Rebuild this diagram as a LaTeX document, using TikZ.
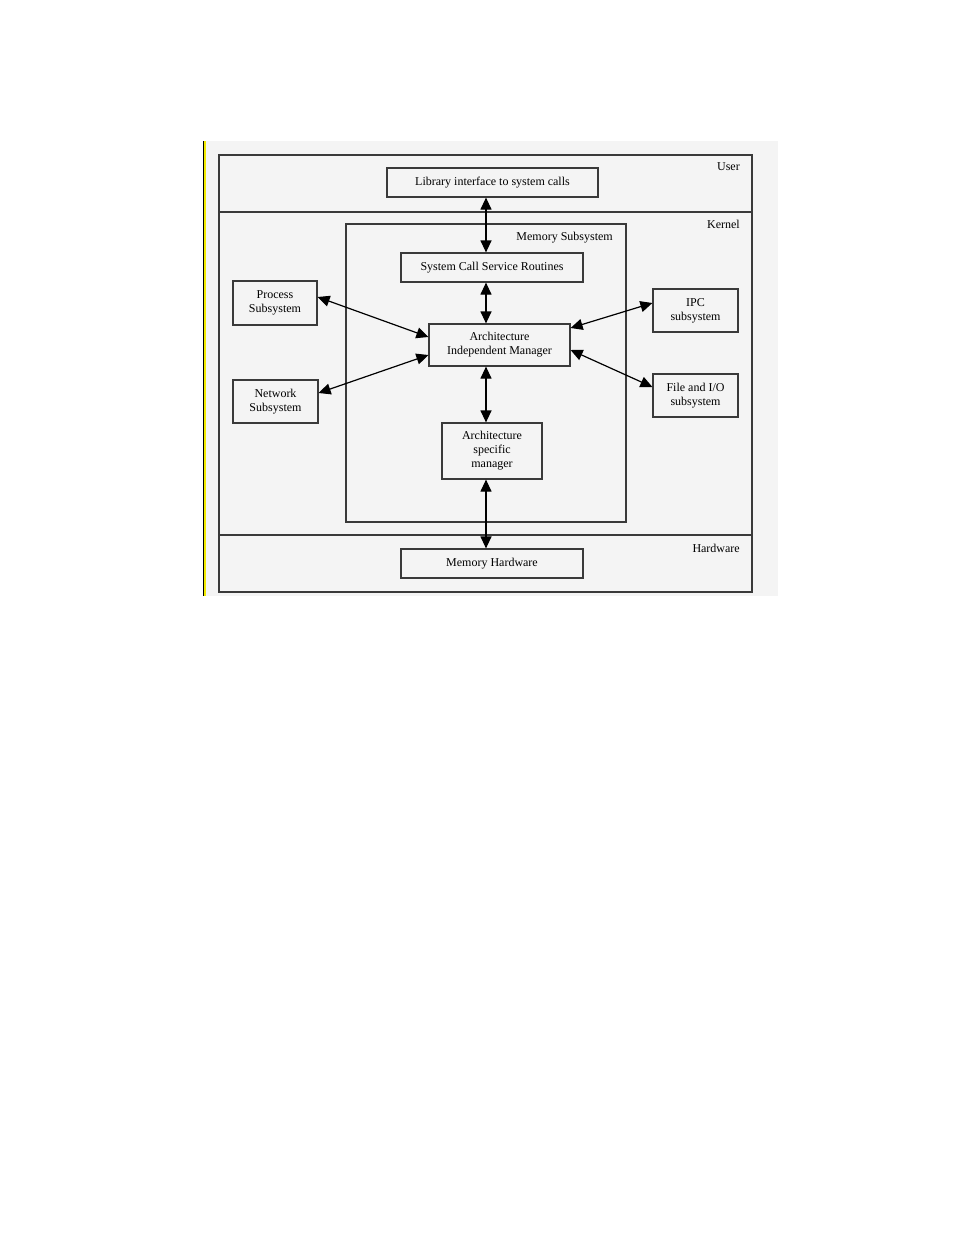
\documentclass[tikz,border=0pt]{standalone}
\usepackage{fontspec}
\setmainfont{Liberation Serif}
\usetikzlibrary{arrows.meta,calc}
\definecolor{bggray}{HTML}{F4F4F4}
\definecolor{linegray}{HTML}{3A3A3A}
\definecolor{sideyellow}{HTML}{F2EA00}
\begin{document}
\begin{tikzpicture}[x=1pt,y=-1pt,
  box/.style={draw=linegray,line width=1.2pt,rectangle,inner sep=0pt,align=center,
    font=\fontsize{12}{14}\selectfont},
  frame/.style={draw=linegray,line width=1.2pt},
  lbl/.style={inner sep=0pt,anchor=east,font=\fontsize{12}{14}\selectfont},
  link/.style={draw=black,line width=1.2pt,{Triangle[length=12pt,width=11pt]}-{Triangle[length=12pt,width=11pt]}}]
\useasboundingbox (0,0) rectangle (954,1235);
% page background
\fill[white] (0,0) rectangle (954,1235);
\fill[bggray] (204,141) rectangle (778,596);
\draw[black,line width=1pt] (203.5,141) -- (203.5,596);
\draw[sideyellow,line width=2pt] (205,141) -- (205,596);
% layers
\draw[frame] (219,155) rectangle (752,592);
\draw[frame] (219,212) -- (752,212);
\draw[frame] (219,535) -- (752,535);
\draw[frame] (346,224) rectangle (626,522);
% labels
\node[lbl] (user) at (740,167) {User};
\node[lbl] (kernel) at (740,224) {Kernel};
\node[lbl] (memsub) at (613,238) {Memory Subsystem};
\node[lbl] (hw) at (740,548) {Hardware};
% boxes
\node[box,minimum width=211pt,minimum height=29pt] (lib) at (492.5,182.5) {Library interface to system calls};
\node[box,minimum width=182pt,minimum height=29pt] (scsr) at (492,267.5) {System Call Service Routines};
\node[box,minimum width=141pt,minimum height=42pt] (aim) at (499.5,345) {Architecture\\Independent Manager};
\node[box,minimum width=100pt,minimum height=56pt] (asm) at (492,451) {Architecture\\specific\\manager};
\node[box,minimum width=182pt,minimum height=29pt] (mh) at (492,563.5) {Memory Hardware};
\node[box,minimum width=84pt,minimum height=44pt] (proc) at (275,303) {Process\\Subsystem};
\node[box,minimum width=85pt,minimum height=43pt] (net) at (275.5,401.5) {Network\\Subsystem};
\node[box,minimum width=85pt,minimum height=43pt] (ipc) at (695.5,310.5) {IPC\\subsystem};
\node[box,minimum width=85pt,minimum height=43pt] (fio) at (695.5,395.5) {File and I/O\\subsystem};
% connectors
\coordinate (ax) at (486,0);
\draw[link] (lib.south -| ax) -- (scsr.north -| ax);
\draw[link] (scsr.south -| ax) -- (aim.north -| ax);
\draw[link] (aim.south -| ax) -- (asm.north -| ax);
\draw[link] (asm.south -| ax) -- (mh.north -| ax);
\draw[link] ([yshift=6pt]proc.east) -- ([yshift=8pt]aim.west);
\draw[link] ([yshift=8.5pt]net.east) -- ([yshift=-10pt]aim.west);
\draw[link] ([yshift=17pt]aim.east) -- ([yshift=7.5pt]ipc.west);
\draw[link] ([yshift=-5pt]aim.east) -- ([yshift=8.5pt]fio.west);
\end{tikzpicture}
\end{document}
